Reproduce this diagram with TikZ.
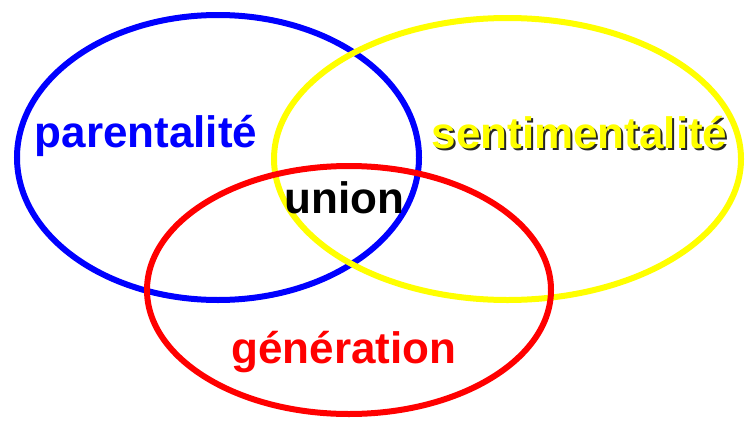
\documentclass[tikz,border=0pt]{standalone}
\usepackage{fontspec}
\setmainfont{Liberation Sans}
\definecolor{vblue}{RGB}{0,0,255}
\definecolor{vyellow}{RGB}{255,255,0}
\definecolor{vred}{RGB}{255,0,0}
\begin{document}
\begin{tikzpicture}[x=1pt,y=-1pt,
  ring/.style={line width=6pt},
  lab/.style={font=\fontsize{44}{44}\selectfont\bfseries, inner sep=0pt, anchor=base}]
\useasboundingbox (0,0) rectangle (749,423);
\draw[ring, vblue] (218,157.5) ellipse [x radius=201, y radius=142.5];
\draw[ring, vyellow] (507.5,159) ellipse [x radius=233.5, y radius=141];
\draw[ring, vred] (349,290) ellipse [x radius=202, y radius=124];
\node[lab, text=vblue] (par) at (146,147) {parentalité};
\node[lab, text=black!85] (sentshadow) at (581.5,150) {sentimentalité};
\node[lab, text=vyellow] (sent) at (579.5,148) {sentimentalité};
\node[lab, text=black] (union) at (344.5,213) {union};
\node[lab, text=vred] (gen) at (344,363) {génération};
\end{tikzpicture}
\end{document}
